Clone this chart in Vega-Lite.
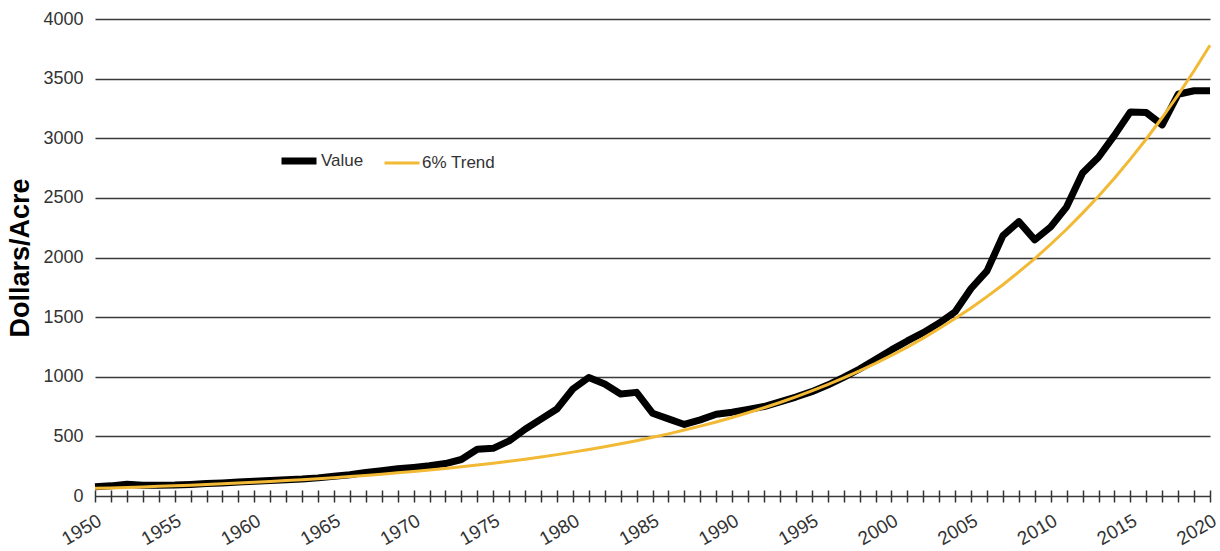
{
  "$schema": "https://vega.github.io/schema/vega-lite/v6.json",
  "width": 1220,
  "height": 551,
  "autosize": {"type": "fit", "contains": "padding"},
  "padding": {"left": 6, "top": 10, "right": 0, "bottom": 2},
  "background": "white",
  "config": {
    "font": "Liberation Sans",
    "view": {"stroke": null}
  },
  "data": {
    "values": [
      {"year": 1950, "series": "Value", "value": 78},
      {"year": 1951, "series": "Value", "value": 85},
      {"year": 1952, "series": "Value", "value": 98},
      {"year": 1953, "series": "Value", "value": 90},
      {"year": 1954, "series": "Value", "value": 90},
      {"year": 1955, "series": "Value", "value": 92},
      {"year": 1956, "series": "Value", "value": 97},
      {"year": 1957, "series": "Value", "value": 104},
      {"year": 1958, "series": "Value", "value": 110},
      {"year": 1959, "series": "Value", "value": 118},
      {"year": 1960, "series": "Value", "value": 124},
      {"year": 1961, "series": "Value", "value": 130},
      {"year": 1962, "series": "Value", "value": 137},
      {"year": 1963, "series": "Value", "value": 142},
      {"year": 1964, "series": "Value", "value": 152},
      {"year": 1965, "series": "Value", "value": 165},
      {"year": 1966, "series": "Value", "value": 178},
      {"year": 1967, "series": "Value", "value": 198},
      {"year": 1968, "series": "Value", "value": 212},
      {"year": 1969, "series": "Value", "value": 228},
      {"year": 1970, "series": "Value", "value": 240},
      {"year": 1971, "series": "Value", "value": 253},
      {"year": 1972, "series": "Value", "value": 272},
      {"year": 1973, "series": "Value", "value": 306},
      {"year": 1974, "series": "Value", "value": 392},
      {"year": 1975, "series": "Value", "value": 400},
      {"year": 1976, "series": "Value", "value": 462},
      {"year": 1977, "series": "Value", "value": 560},
      {"year": 1978, "series": "Value", "value": 645},
      {"year": 1979, "series": "Value", "value": 730},
      {"year": 1980, "series": "Value", "value": 897},
      {"year": 1981, "series": "Value", "value": 994},
      {"year": 1982, "series": "Value", "value": 939},
      {"year": 1983, "series": "Value", "value": 856},
      {"year": 1984, "series": "Value", "value": 869},
      {"year": 1985, "series": "Value", "value": 694},
      {"year": 1986, "series": "Value", "value": 647},
      {"year": 1987, "series": "Value", "value": 600},
      {"year": 1988, "series": "Value", "value": 638},
      {"year": 1989, "series": "Value", "value": 685},
      {"year": 1990, "series": "Value", "value": 703},
      {"year": 1991, "series": "Value", "value": 725},
      {"year": 1992, "series": "Value", "value": 750},
      {"year": 1993, "series": "Value", "value": 790},
      {"year": 1994, "series": "Value", "value": 830},
      {"year": 1995, "series": "Value", "value": 875},
      {"year": 1996, "series": "Value", "value": 930},
      {"year": 1997, "series": "Value", "value": 995},
      {"year": 1998, "series": "Value", "value": 1065},
      {"year": 1999, "series": "Value", "value": 1145},
      {"year": 2000, "series": "Value", "value": 1225},
      {"year": 2001, "series": "Value", "value": 1300},
      {"year": 2002, "series": "Value", "value": 1370},
      {"year": 2003, "series": "Value", "value": 1450},
      {"year": 2004, "series": "Value", "value": 1545},
      {"year": 2005, "series": "Value", "value": 1740},
      {"year": 2006, "series": "Value", "value": 1888},
      {"year": 2007, "series": "Value", "value": 2183},
      {"year": 2008, "series": "Value", "value": 2301},
      {"year": 2009, "series": "Value", "value": 2148},
      {"year": 2010, "series": "Value", "value": 2257},
      {"year": 2011, "series": "Value", "value": 2425},
      {"year": 2012, "series": "Value", "value": 2708},
      {"year": 2013, "series": "Value", "value": 2841},
      {"year": 2014, "series": "Value", "value": 3024},
      {"year": 2015, "series": "Value", "value": 3221},
      {"year": 2016, "series": "Value", "value": 3215},
      {"year": 2017, "series": "Value", "value": 3112},
      {"year": 2018, "series": "Value", "value": 3369},
      {"year": 2019, "series": "Value", "value": 3398},
      {"year": 2020, "series": "Value", "value": 3398},
      {"year": 1950, "series": "6% Trend", "value": 64},
      {"year": 1951, "series": "6% Trend", "value": 68},
      {"year": 1952, "series": "6% Trend", "value": 72},
      {"year": 1953, "series": "6% Trend", "value": 76},
      {"year": 1954, "series": "6% Trend", "value": 81},
      {"year": 1955, "series": "6% Trend", "value": 86},
      {"year": 1956, "series": "6% Trend", "value": 91},
      {"year": 1957, "series": "6% Trend", "value": 96},
      {"year": 1958, "series": "6% Trend", "value": 102},
      {"year": 1959, "series": "6% Trend", "value": 108},
      {"year": 1960, "series": "6% Trend", "value": 115},
      {"year": 1961, "series": "6% Trend", "value": 121},
      {"year": 1962, "series": "6% Trend", "value": 129},
      {"year": 1963, "series": "6% Trend", "value": 136},
      {"year": 1964, "series": "6% Trend", "value": 145},
      {"year": 1965, "series": "6% Trend", "value": 153},
      {"year": 1966, "series": "6% Trend", "value": 163},
      {"year": 1967, "series": "6% Trend", "value": 172},
      {"year": 1968, "series": "6% Trend", "value": 183},
      {"year": 1969, "series": "6% Trend", "value": 194},
      {"year": 1970, "series": "6% Trend", "value": 205},
      {"year": 1971, "series": "6% Trend", "value": 218},
      {"year": 1972, "series": "6% Trend", "value": 231},
      {"year": 1973, "series": "6% Trend", "value": 245},
      {"year": 1974, "series": "6% Trend", "value": 259},
      {"year": 1975, "series": "6% Trend", "value": 275},
      {"year": 1976, "series": "6% Trend", "value": 291},
      {"year": 1977, "series": "6% Trend", "value": 309},
      {"year": 1978, "series": "6% Trend", "value": 327},
      {"year": 1979, "series": "6% Trend", "value": 347},
      {"year": 1980, "series": "6% Trend", "value": 368},
      {"year": 1981, "series": "6% Trend", "value": 390},
      {"year": 1982, "series": "6% Trend", "value": 413},
      {"year": 1983, "series": "6% Trend", "value": 438},
      {"year": 1984, "series": "6% Trend", "value": 464},
      {"year": 1985, "series": "6% Trend", "value": 492},
      {"year": 1986, "series": "6% Trend", "value": 521},
      {"year": 1987, "series": "6% Trend", "value": 553},
      {"year": 1988, "series": "6% Trend", "value": 586},
      {"year": 1989, "series": "6% Trend", "value": 621},
      {"year": 1990, "series": "6% Trend", "value": 658},
      {"year": 1991, "series": "6% Trend", "value": 698},
      {"year": 1992, "series": "6% Trend", "value": 740},
      {"year": 1993, "series": "6% Trend", "value": 784},
      {"year": 1994, "series": "6% Trend", "value": 831},
      {"year": 1995, "series": "6% Trend", "value": 881},
      {"year": 1996, "series": "6% Trend", "value": 934},
      {"year": 1997, "series": "6% Trend", "value": 990},
      {"year": 1998, "series": "6% Trend", "value": 1049},
      {"year": 1999, "series": "6% Trend", "value": 1112},
      {"year": 2000, "series": "6% Trend", "value": 1179},
      {"year": 2001, "series": "6% Trend", "value": 1249},
      {"year": 2002, "series": "6% Trend", "value": 1324},
      {"year": 2003, "series": "6% Trend", "value": 1404},
      {"year": 2004, "series": "6% Trend", "value": 1488},
      {"year": 2005, "series": "6% Trend", "value": 1577},
      {"year": 2006, "series": "6% Trend", "value": 1672},
      {"year": 2007, "series": "6% Trend", "value": 1772},
      {"year": 2008, "series": "6% Trend", "value": 1879},
      {"year": 2009, "series": "6% Trend", "value": 1991},
      {"year": 2010, "series": "6% Trend", "value": 2111},
      {"year": 2011, "series": "6% Trend", "value": 2237},
      {"year": 2012, "series": "6% Trend", "value": 2372},
      {"year": 2013, "series": "6% Trend", "value": 2514},
      {"year": 2014, "series": "6% Trend", "value": 2665},
      {"year": 2015, "series": "6% Trend", "value": 2825},
      {"year": 2016, "series": "6% Trend", "value": 2994},
      {"year": 2017, "series": "6% Trend", "value": 3174},
      {"year": 2018, "series": "6% Trend", "value": 3364},
      {"year": 2019, "series": "6% Trend", "value": 3566},
      {"year": 2020, "series": "6% Trend", "value": 3780}
    ]
  },
  "encoding": {
    "x": {
      "field": "year",
      "type": "quantitative",
      "scale": {"domain": [1950, 2020], "nice": false, "zero": false},
      "axis": {
        "title": null,
        "grid": false,
        "offset": -6,
        "domain": false,
        "values": [1950,1951,1952,1953,1954,1955,1956,1957,1958,1959,1960,1961,1962,1963,1964,1965,1966,1967,1968,1969,1970,1971,1972,1973,1974,1975,1976,1977,1978,1979,1980,1981,1982,1983,1984,1985,1986,1987,1988,1989,1990,1991,1992,1993,1994,1995,1996,1997,1998,1999,2000,2001,2002,2003,2004,2005,2006,2007,2008,2009,2010,2011,2012,2013,2014,2015,2016,2017,2018,2019,2020],
        "format": "d",
        "labelExpr": "datum.value % 5 === 0 ? datum.label : ''",
        "labelAngle": -30,
        "labelAlign": "right",
        "labelBaseline": "top",
        "labelPadding": 9,
        "labelFontSize": 19,
        "labelColor": "#333333",
        "labelOverlap": false,
        "labelFlush": false,
        "tickColor": "#333333",
        "tickWidth": 1.5,
        "tickSize": 12
      }
    },
    "y": {
      "field": "value",
      "type": "quantitative",
      "scale": {"domain": [0, 4000], "nice": false},
      "axis": {
        "title": "Dollars/Acre",
        "titleFontSize": 27,
        "titleFontWeight": "bold",
        "titleColor": "#000000",
        "titlePadding": 8,
        "values": [0, 500, 1000, 1500, 2000, 2500, 3000, 3500, 4000],
        "format": "d",
        "labelFontSize": 18,
        "labelColor": "#333333",
        "labelPadding": 12,
        "domain": false,
        "ticks": false,
        "grid": true,
        "gridColor": "#3a3a3a",
        "gridWidth": 1.4
      }
    },
    "color": {
      "field": "series",
      "type": "nominal",
      "scale": {"domain": ["Value", "6% Trend"], "range": ["#000000", "#F2B935"]},
      "legend": {
        "title": null,
        "orient": "none",
        "direction": "horizontal",
        "legendX": 183,
        "legendY": 121,
        "symbolType": "stroke",
        "symbolSize": 1225,
        "labelFontSize": 17,
        "labelBaseline": "middle",
        "labelColor": "#333333",
        "labelOffset": 1,
        "columnPadding": 14
      }
    },
    "strokeWidth": {
      "field": "series",
      "type": "nominal",
      "scale": {"domain": ["Value", "6% Trend"], "range": [7, 3]},
      "legend": {
        "title": null,
        "orient": "none",
        "direction": "horizontal",
        "legendX": 183,
        "legendY": 121,
        "symbolType": "stroke",
        "symbolSize": 1225,
        "labelFontSize": 17,
        "labelBaseline": "middle",
        "labelColor": "#333333",
        "labelOffset": 1,
        "columnPadding": 14
      }
    }
  },
  "layer": [
    {
      "transform": [{"filter": "datum.series === 'Value'"}],
      "mark": {"type": "line", "strokeJoin": "round"}
    },
    {
      "transform": [{"filter": "datum.series === '6% Trend'"}],
      "mark": {"type": "line"}
    }
  ]
}
